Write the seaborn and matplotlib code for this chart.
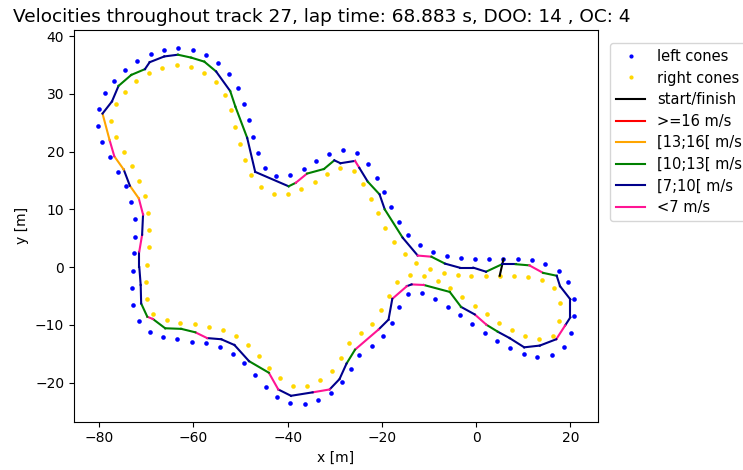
import matplotlib
matplotlib.use("Agg")
import matplotlib.pyplot as plt
from matplotlib.lines import Line2D
import pandas as pd
import seaborn as sns

# Cone positions [m]
left_x = [2.8, 5.8, 8.8, 11.8, 14.7, 17.5, 19.6, 20.7, 20.8, 20.2, 18.6, 16.0, 13.0, 10.1, 7.2,
          4.5, 1.8, -0.8, -3.5, -6.0, -8.7, -11.5, -14.4, -16.3, -17.9, -19.7, -22.1, -24.8,
          -26.5, -28.4, -30.8, -33.5, -36.4, -39.5, -42.2, -44.6, -46.9, -49.2, -51.7, -54.4,
          -57.4, -60.4, -63.4, -66.4, -69.2, -71.5, -72.8, -73.0, -72.9, -72.6, -72.5, -72.5,
          -73.2, -74.4, -76.0, -77.8, -79.4, -80.3, -80.1, -78.7, -76.8, -74.5, -71.9, -69.1,
          -66.2, -63.2, -60.2, -57.3, -54.7, -52.4, -50.6, -49.3, -48.3, -47.3, -46.4, -44.9,
          -42.4, -39.5, -36.6, -33.9, -31.2, -28.2, -25.3, -23.0, -21.1, -19.6, -18.0, -16.3,
          -14.4, -12.0, -9.2, -6.2, -3.2, -0.2]
left_y = [1.4, 1.4, 1.4, 1.2, 0.6, -0.6, -2.6, -5.5, -8.4, -11.4, -13.9, -15.3, -15.5, -15.0,
          -14.0, -12.8, -11.4, -9.9, -8.3, -6.9, -5.5, -4.5, -4.7, -7.0, -9.6, -11.9, -13.7,
          -15.2, -17.7, -19.9, -21.8, -23.0, -23.7, -23.5, -22.5, -20.8, -18.7, -16.7, -15.0,
          -13.9, -13.2, -12.9, -12.5, -12.1, -11.2, -9.3, -6.6, -3.7, -0.6, 2.4, 5.3, 8.3, 11.2,
          14.1, 16.5, 19.0, 21.6, 24.4, 27.4, 30.1, 32.3, 34.2, 35.7, 36.9, 37.7, 38.0, 37.7,
          36.8, 35.4, 33.4, 31.0, 28.3, 25.5, 22.6, 19.8, 17.2, 15.7, 16.0, 17.0, 18.3, 19.6,
          20.3, 19.8, 17.9, 15.5, 13.0, 10.4, 7.9, 5.6, 3.8, 2.6, 2.0, 1.6, 1.4]

right_x = [2.1, 5.0, 8.1, 11.1, 14.0, 16.6, 17.8, 17.6, 16.3, 13.4, 10.4, 7.6, 4.9, 2.3, -0.3,
           -2.9, -5.5, -8.2, -11.0, -14.0, -16.7, -18.6, -20.2, -22.0, -24.5, -27.0, -28.7,
           -30.6, -33.1, -36.0, -38.9, -41.6, -43.9, -46.1, -48.4, -51.0, -53.8, -56.8, -59.7,
           -62.8, -65.7, -68.5, -69.8, -70.0, -69.8, -69.5, -69.4, -69.6, -70.3, -71.5, -73.1,
           -74.8, -76.4, -77.4, -76.4, -74.5, -72.1, -69.4, -66.6, -63.6, -60.6, -57.8, -55.3,
           -53.4, -52.0, -51.1, -50.1, -49.1, -47.7, -45.7, -43.0, -39.9, -37.1, -34.3, -31.6,
           -28.8, -26.0, -24.1, -22.4, -20.9, -19.3, -17.4, -15.2, -12.7, -9.9, -6.9, -3.9, -1.0]
right_y = [-1.5, -1.5, -1.6, -1.7, -2.3, -3.7, -6.3, -9.3, -11.9, -12.5, -11.9, -10.9, -9.7,
           -8.2, -6.7, -5.2, -3.7, -2.4, -1.5, -1.4, -2.6, -5.0, -7.5, -9.9, -11.5, -13.2,
           -15.7, -18.0, -19.6, -20.6, -20.6, -19.3, -17.4, -15.4, -13.5, -11.9, -10.9, -10.3,
           -9.9, -9.6, -9.2, -8.1, -5.6, -2.6, 0.4, 3.4, 6.4, 9.3, 12.3, 15.0, 17.6, 20.0, 22.5,
           25.3, 28.2, 30.4, 32.2, 33.6, 34.5, 35.0, 34.7, 33.7, 32.1, 29.8, 27.2, 24.3, 21.4,
           18.6, 15.9, 13.8, 12.7, 12.7, 13.6, 14.8, 16.1, 17.2, 16.6, 14.4, 11.8, 9.3, 6.7,
           4.4, 2.3, 0.7, -0.3, -1.0, -1.3, -1.5]

# Driven line (closed loop) and speed on each segment [m/s]
path_x = [2.1, 5.5, 8.4, 11.3, 14.2, 17.1, 17.8, 20.0, 20.0, 18.9, 17.0, 13.5, 10.2, 7.1, 4.6,
          2.2, -0.3, -3.2, -5.6, -11.1, -13.7, -14.7, -17.8, -18.6, -20.7, -25.7, -27.5, -29.0,
          -31.1, -34.7, -39.3, -42.0, -44.0, -48.2, -51.3, -54.1, -57.1, -59.6, -62.6, -66.0,
          -68.6, -69.8, -71.1, -71.2, -71.5, -71.5, -70.9, -70.7, -71.6, -73.5, -74.8, -76.8,
          -77.8, -79.3, -77.3, -75.9, -73.2, -70.3, -69.3, -66.2, -63.3, -60.5, -57.7, -55.2,
          -52.2, -51.1, -48.6, -46.9, -39.8, -38.3, -35.9, -32.3, -30.1, -28.8, -25.7, -24.8,
          -23.0, -20.5, -19.4, -15.6, -12.4, -9.5, -6.6, -3.5, -0.6, 2.1]
path_y = [-0.8, 0.5, 0.5, 0.3, -1.0, -1.5, -3.3, -5.6, -8.7, -10.1, -12.5, -13.6, -13.9, -12.3,
          -11.2, -10.0, -8.2, -6.9, -4.3, -3.1, -3.0, -3.3, -5.5, -9.1, -10.8, -14.3, -16.7,
          -19.4, -21.2, -21.7, -22.3, -21.2, -18.3, -16.3, -13.5, -12.5, -12.3, -11.3, -10.7,
          -10.6, -9.0, -8.6, -6.3, -3.1, 0.0, 2.7, 5.6, 9.1, 11.9, 14.1, 16.9, 19.2, 22.0, 26.6,
          28.7, 31.4, 33.3, 34.3, 35.5, 36.5, 36.8, 36.3, 35.6, 33.9, 30.5, 27.8, 22.4, 16.5,
          14.0, 14.6, 16.2, 17.0, 18.5, 18.0, 18.4, 17.2, 14.8, 12.6, 10.0, 5.1, 2.0, 1.8, 0.6,
          -0.1, -0.1, -0.8]
speed = [11.2, 9.6, 10.4, 6.6, 10.3, 8.9, 8.1, 7.6, 7.2, 6.7, 7.3, 8.0, 8.8, 9.5, 10.2, 6.8,
         7.9, 10.3, 11.0, 6.5, 7.1, 6.4, 7.5, 8.4, 6.9, 10.1, 9.2, 7.8, 6.6, 7.4, 8.3, 6.9,
         10.2, 9.7, 8.6, 7.7, 6.8, 10.1, 10.8, 10.4, 6.9, 10.0, 8.7, 9.3, 7.9, 6.7, 7.2, 6.8,
         13.2, 9.8, 13.1, 6.9, 13.4, 9.6, 9.1, 10.6, 11.3, 9.8, 9.4, 9.7, 10.5, 11.2, 10.7, 9.6,
         10.3, 10.9, 9.5, 8.2, 10.2, 6.8, 10.1, 10.6, 9.4, 7.6, 6.5, 7.3, 10.2, 9.7, 10.4, 9.1,
         6.9, 10.1, 9.3, 8.5, 9.0]

# Start/finish gate between the first left and right cone pair
start_x = [left_x[1], right_x[1]]
start_y = [left_y[1], right_y[1]]

bin_labels = [">=16 m/s", "[13;16[ m/s", "[10;13[ m/s", "[7;10[ m/s", "<7 m/s"]
bin_colors = ["red", "orange", "green", "darkblue", "deeppink"]


def speed_color(v):
    if v >= 16:
        return bin_colors[0]
    if v >= 13:
        return bin_colors[1]
    if v >= 10:
        return bin_colors[2]
    if v >= 7:
        return bin_colors[3]
    return bin_colors[4]


fig = plt.figure(figsize=(7.43, 4.70), dpi=100)
ax = fig.add_axes([0.0996, 0.1028, 0.7052, 0.8334])

cones_left = pd.DataFrame({"x": left_x, "y": left_y})
cones_right = pd.DataFrame({"x": right_x, "y": right_y})
sns.scatterplot(data=cones_left, x="x", y="y", color="blue", s=11, linewidth=0, ax=ax)
sns.scatterplot(data=cones_right, x="x", y="y", color="gold", s=11, linewidth=0, ax=ax)

ax.plot(start_x, start_y, color="black", lw=1.5)
for i, v in enumerate(speed):
    ax.plot(path_x[i:i + 2], path_y[i:i + 2], color=speed_color(v), lw=1.5)

ax.set_xlabel("x [m]")
ax.set_ylabel("y [m]")
ax.set_title("Velocities throughout track 27, lap time: 68.883 s, DOO: 14 , OC: 4",
             fontsize=13.3, x=0.473)

handles = [
    Line2D([], [], ls="", marker="o", markersize=2, color="blue"),
    Line2D([], [], ls="", marker="o", markersize=2, color="gold"),
    Line2D([], [], color="black", lw=1.5),
] + [Line2D([], [], color=c, lw=1.5) for c in bin_colors]
labels = ["left cones", "right cones", "start/finish"] + bin_labels
ax.legend(handles, labels, loc="upper left", bbox_to_anchor=(1.01, 0.985),
          fontsize=10.5, labelspacing=0.45)

fig.savefig("out.png", dpi=100)
